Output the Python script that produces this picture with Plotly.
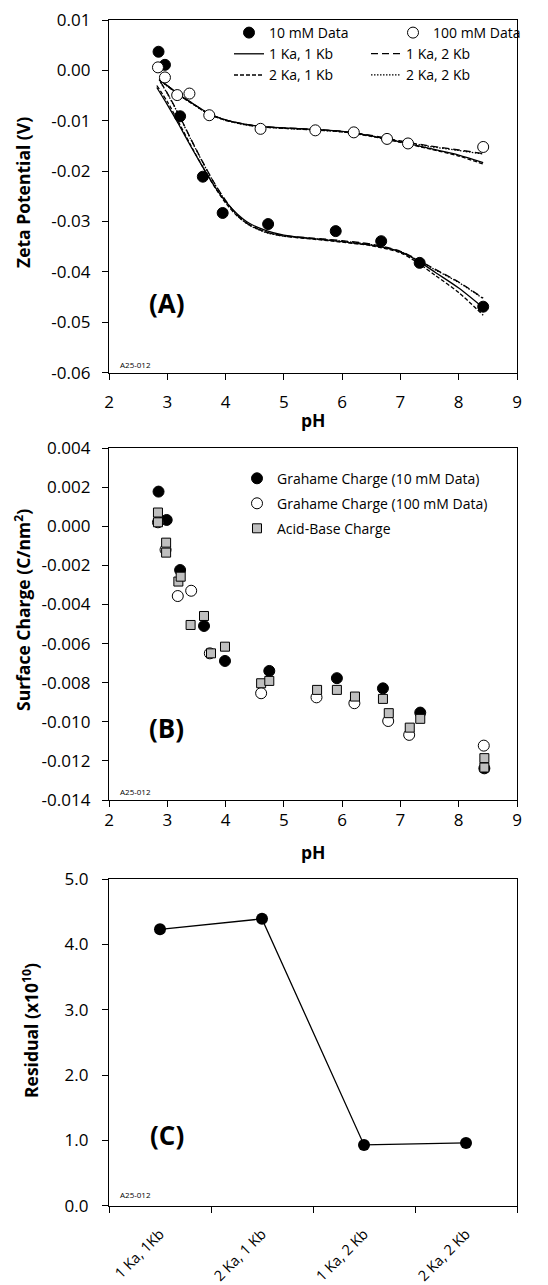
import plotly.graph_objects as go

# ---------------- Panel A data (zeta potential) ----------------
ph_10 = [2.85, 2.96, 3.22, 3.61, 3.95, 4.73, 5.89, 6.67, 7.33, 8.42]
zeta_10 = [0.0037, 0.0011, -0.0091, -0.0211, -0.0283, -0.0305, -0.0319, -0.0339, -0.0382, -0.0469]
ph_100 = [2.84, 2.96, 3.17, 3.38, 3.72, 4.60, 5.54, 6.20, 6.77, 7.13, 8.42]
zeta_100 = [0.0006, -0.0014, -0.0049, -0.0046, -0.0089, -0.0116, -0.0119, -0.0123, -0.0136, -0.0145, -0.0152]

# model curves, 10 mM
fit10_ph_a = [2.82, 3.0, 3.2, 3.4, 3.6, 3.8, 4.0, 4.2, 4.4, 4.7, 5.0, 5.5, 6.0, 6.5, 7.0, 7.3, 7.6, 8.0, 8.42]
fit10_1ka1kb = [-0.0034, -0.0068, -0.0108, -0.0150, -0.0190, -0.0228, -0.0260, -0.0285, -0.0303, -0.0318,
                -0.0327, -0.0334, -0.0340, -0.0347, -0.0360, -0.0378, -0.0401, -0.0432, -0.0471]
fit10_2ka1kb = [-0.0030, -0.0062, -0.0104, -0.0148, -0.0190, -0.0229, -0.0263, -0.0289, -0.0306, -0.0321,
                -0.0329, -0.0335, -0.0341, -0.0348, -0.0362, -0.0382, -0.0407, -0.0441, -0.0486]
fit10_ph_b = [2.88, 3.0, 3.2, 3.4, 3.6, 3.8, 4.0, 4.2, 4.4, 4.7, 5.0, 5.5, 6.0, 6.5, 7.0, 7.3, 7.6, 8.0, 8.42]
fit10_1ka2kb = [-0.0022, -0.0045, -0.0088, -0.0135, -0.0180, -0.0222, -0.0258, -0.0287, -0.0306, -0.0321,
                -0.0328, -0.0333, -0.0338, -0.0345, -0.0359, -0.0376, -0.0395, -0.0420, -0.0452]
fit10_2ka2kb = [-0.0023, -0.0046, -0.0089, -0.0136, -0.0181, -0.0223, -0.0259, -0.0288, -0.0307, -0.0322,
                -0.0329, -0.0334, -0.0339, -0.0346, -0.0360, -0.0377, -0.0396, -0.0421, -0.0453]

# model curves, 100 mM
fit100_ph = [2.86, 3.0, 3.2, 3.4, 3.72, 4.0, 4.3, 4.6, 5.0, 5.5, 6.0, 6.5, 7.0, 7.5, 8.0, 8.42]
fit100_1ka1kb = [-0.0018, -0.0030, -0.0048, -0.0063, -0.0086, -0.0098, -0.0106, -0.0111, -0.0114, -0.0117,
                 -0.0121, -0.0130, -0.0142, -0.0155, -0.0168, -0.0183]
fit100_2ka1kb = [-0.0019, -0.0031, -0.0049, -0.0064, -0.0087, -0.0099, -0.0107, -0.0112, -0.0115, -0.0118,
                 -0.0122, -0.0131, -0.0143, -0.0156, -0.0170, -0.0186]
fit100_1ka2kb = [-0.0018, -0.0030, -0.0048, -0.0063, -0.0086, -0.0098, -0.0106, -0.0111, -0.0114, -0.0117,
                 -0.0121, -0.0129, -0.0140, -0.0150, -0.0158, -0.0165]
fit100_2ka2kb = [-0.0019, -0.0031, -0.0049, -0.0064, -0.0087, -0.0099, -0.0107, -0.0112, -0.0115, -0.0118,
                 -0.0122, -0.0130, -0.0141, -0.0151, -0.0159, -0.0166]

# ---------------- Panel B data (surface charge) ----------------
gra10_ph = [2.85, 2.99, 3.22, 3.63, 3.99, 4.75, 5.91, 6.70, 7.34, 8.44]
gra10 = [0.00177, 0.00032, -0.00224, -0.0051, -0.00689, -0.0074, -0.00777, -0.00829, -0.00953, -0.01238]
gra100_ph = [2.84, 2.97, 3.18, 3.41, 3.73, 4.61, 5.56, 6.21, 6.79, 7.15, 8.43]
gra100 = [0.0002, -0.0012, -0.00357, -0.0033, -0.0065, -0.00854, -0.00875, -0.00905, -0.00996, -0.01067, -0.01122]
ab_ph = [2.84, 2.84, 2.98, 2.98, 3.19, 3.23, 3.40, 3.63, 3.75, 3.99, 4.61, 4.75, 5.57, 5.91,
         6.22, 6.70, 6.80, 7.16, 7.34, 8.44, 8.44]
ab_charge = [0.0007, 0.0002, -0.00084, -0.00135, -0.00283, -0.00258, -0.00505, -0.00459, -0.0065, -0.00616,
             -0.00803, -0.00791, -0.00837, -0.00837, -0.00871, -0.00883, -0.00956, -0.0103, -0.00985,
             -0.01186, -0.01234]

# ---------------- Panel C data (residuals) ----------------
models = ["1 Ka, 1Kb", "2 Ka, 1 Kb", "1 Ka, 2 Kb", "2 Ka, 2 Kb"]
residual = [4.23, 4.39, 0.93, 0.96]

# ---------------- Tick labels ----------------
ph_ticks = [2, 3, 4, 5, 6, 7, 8, 9]
zeta_tickvals = [0.01, 0.0, -0.01, -0.02, -0.03, -0.04, -0.05, -0.06]
zeta_ticktext = ["0.01", "0.00", "-0.01", "-0.02", "-0.03", "-0.04", "-0.05", "-0.06"]
charge_tickvals = [0.004, 0.002, 0.0, -0.002, -0.004, -0.006, -0.008, -0.010, -0.012, -0.014]
charge_ticktext = ["0.004", "0.002", "0.000", "-0.002", "-0.004", "-0.006", "-0.008", "-0.010", "-0.012", "-0.014"]
resid_tickvals = [0, 1, 2, 3, 4, 5]
resid_ticktext = ["0.0", "1.0", "2.0", "3.0", "4.0", "5.0"]

FONT = "Open Sans"
W, H = 548, 1285

def px_x(x):
    return x / W

def px_y(y):
    return 1 - y / H

XDOM = [px_x(109), px_x(517)]
YDOM_A = [px_y(372.7), px_y(20)]
YDOM_B = [px_y(800), px_y(448)]
YDOM_C = [px_y(1205.7), px_y(879)]

fig = go.Figure()

LW = 1.3
line_styles = {
    "1 Ka, 1 Kb": "solid",
    "2 Ka, 1 Kb": "4px,2px",
    "1 Ka, 2 Kb": "7px,4px",
    "2 Ka, 2 Kb": "1.5px,1.5px",
}

fits10 = [
    ("1 Ka, 1 Kb", fit10_ph_a, fit10_1ka1kb, "legend", 2),
    ("2 Ka, 1 Kb", fit10_ph_a, fit10_2ka1kb, "legend", 3),
    ("1 Ka, 2 Kb", fit10_ph_b, fit10_1ka2kb, "legend4", 2),
    ("2 Ka, 2 Kb", fit10_ph_b, fit10_2ka2kb, "legend4", 3),
]
fits100 = [
    ("1 Ka, 1 Kb", fit100_1ka1kb),
    ("2 Ka, 1 Kb", fit100_2ka1kb),
    ("1 Ka, 2 Kb", fit100_1ka2kb),
    ("2 Ka, 2 Kb", fit100_2ka2kb),
]

for name, xs, ys, leg, rank in fits10:
    fig.add_trace(go.Scatter(
        x=xs, y=ys, mode="lines", name=name,
        line=dict(color="black", width=LW, dash=line_styles[name], shape="spline", smoothing=0.8),
        xaxis="x", yaxis="y", legend=leg, legendrank=rank, hoverinfo="skip"))
for name, ys in fits100:
    fig.add_trace(go.Scatter(
        x=fit100_ph, y=ys, mode="lines", name=name, showlegend=False,
        line=dict(color="black", width=LW, dash=line_styles[name], shape="spline", smoothing=0.8),
        xaxis="x", yaxis="y", hoverinfo="skip"))

fig.add_trace(go.Scatter(
    x=ph_10, y=zeta_10, mode="markers", name="10 mM Data",
    marker=dict(symbol="circle", size=11, color="black", line=dict(color="black", width=1)),
    xaxis="x", yaxis="y", legend="legend", legendrank=1))
fig.add_trace(go.Scatter(
    x=ph_100, y=zeta_100, mode="markers", name="100 mM Data",
    marker=dict(symbol="circle", size=11, color="white", line=dict(color="black", width=1)),
    xaxis="x", yaxis="y", legend="legend2", legendrank=1))

# Panel B
fig.add_trace(go.Scatter(
    x=gra10_ph, y=gra10, mode="markers", name="Grahame Charge (10 mM Data)",
    marker=dict(symbol="circle", size=11, color="black", line=dict(color="black", width=1)),
    xaxis="x2", yaxis="y2", legend="legend3", legendgroup="g1"))
fig.add_trace(go.Scatter(
    x=gra100_ph, y=gra100, mode="markers", name="Grahame Charge (100 mM Data)",
    marker=dict(symbol="circle", size=11, color="white", line=dict(color="black", width=1)),
    xaxis="x2", yaxis="y2", legend="legend3", legendgroup="g2"))
fig.add_trace(go.Scatter(
    x=ab_ph, y=ab_charge, mode="markers", name="Acid-Base Charge",
    marker=dict(symbol="square", size=9, color="#bfbfbf", line=dict(color="black", width=1)),
    xaxis="x2", yaxis="y2", legend="legend3", legendgroup="g3"))

# Panel C
fig.add_trace(go.Scatter(
    x=models, y=residual, mode="lines+markers", name="Residual", showlegend=False,
    line=dict(color="black", width=LW),
    marker=dict(symbol="circle", size=12, color="black"),
    xaxis="x3", yaxis="y3"))

tickfont = dict(family=FONT, size=17, color="black")
common_axis = dict(showgrid=False, zeroline=False, showline=True, linecolor="black", linewidth=1.3,
                   mirror=True, ticks="outside", ticklen=6, tickwidth=1.3, tickcolor="black",
                   automargin=False)

leg_font = dict(family=FONT, size=14, color="black")
fig.update_layout(
    width=W, height=H,
    margin=dict(l=0, r=0, t=0, b=0),
    paper_bgcolor="white", plot_bgcolor="white",
    font=dict(family=FONT, color="black"),
    xaxis=dict(domain=XDOM, anchor="y", range=[2, 9], tickvals=ph_ticks, ticklabelstandoff=8,
               tickfont=tickfont, **common_axis),
    yaxis=dict(domain=YDOM_A, anchor="x", range=[-0.06, 0.01], tickvals=zeta_tickvals, ticktext=zeta_ticktext,
               ticklabelstandoff=8, tickfont=tickfont, **common_axis),
    xaxis2=dict(domain=XDOM, anchor="y2", range=[2, 9], tickvals=ph_ticks, ticklabelstandoff=-2,
                tickfont=tickfont, **common_axis),
    yaxis2=dict(domain=YDOM_B, anchor="x2", range=[-0.014, 0.004], tickvals=charge_tickvals,
                ticktext=charge_ticktext, ticklabelstandoff=8, tickfont=tickfont, **common_axis),
    xaxis3=dict(domain=XDOM, anchor="y3", type="category", range=[-0.5, 3.5], tickson="boundaries",
                tickangle=-45, ticklabelstandoff=13, tickfont=dict(family=FONT, size=14.5, color="black"),
                **common_axis),
    yaxis3=dict(domain=YDOM_C, anchor="x3", range=[0, 5], tickvals=resid_tickvals, ticktext=resid_ticktext,
                ticklabelstandoff=10, tickfont=tickfont, **common_axis),
    legend=dict(x=px_x(229), y=px_y(17), xanchor="left", yanchor="top", bgcolor="rgba(0,0,0,0)",
                font=leg_font, traceorder="normal"),
    legend2=dict(x=px_x(393), y=px_y(17), xanchor="left", yanchor="top", bgcolor="rgba(0,0,0,0)",
                 font=leg_font, traceorder="normal"),
    legend4=dict(x=px_x(366), y=px_y(38), xanchor="left", yanchor="top", bgcolor="rgba(0,0,0,0)",
                 font=leg_font, traceorder="normal"),
    legend3=dict(x=px_x(237), y=px_y(462.7), xanchor="left", yanchor="top", bgcolor="rgba(0,0,0,0)",
                 font=leg_font, tracegroupgap=3.8, traceorder="grouped"),
    showlegend=True,
)

title_font = dict(family=FONT, size=17.5, color="black", weight="bold")
ann = []
# axis titles
ann.append(dict(text="<b>Zeta Potential (V)</b>", x=px_x(23), y=px_y(193), textangle=-90, font=title_font))
ann.append(dict(text="<b>pH</b>", x=px_x(313), y=px_y(420), font=title_font))
ann.append(dict(text="<b>Surface Charge (C/nm<sup>2</sup>)</b>", x=px_x(22), y=px_y(610), textangle=-90, font=title_font))
ann.append(dict(text="<b>pH</b>", x=px_x(313), y=px_y(852), font=title_font))
ann.append(dict(text="<b>Residual (x10<sup>10</sup>)</b>", x=px_x(30), y=px_y(1031), textangle=-90, font=title_font))
# panel labels
lab_font = dict(family=FONT, size=26, color="black")
ann.append(dict(text="<b>(A)</b>", x=px_x(166.5), y=px_y(303), font=lab_font))
ann.append(dict(text="<b>(B)</b>", x=px_x(166.5), y=px_y(728), font=lab_font))
ann.append(dict(text="<b>(C)</b>", x=px_x(166.5), y=px_y(1135), font=lab_font))
small_font = dict(family=FONT, size=8, color="black")
for yy in (364, 791.7, 1194):
    ann.append(dict(text="A25-012", x=px_x(118), y=px_y(yy), xanchor="left", font=small_font))

for a in ann:
    a.setdefault("xanchor", "center")
    a.update(xref="paper", yref="paper", yanchor="middle", showarrow=False)
fig.update_layout(annotations=ann)

fig.write_html("out.html", config={"displayModeBar": False},
               post_script="document.body.style.margin='0px';")
